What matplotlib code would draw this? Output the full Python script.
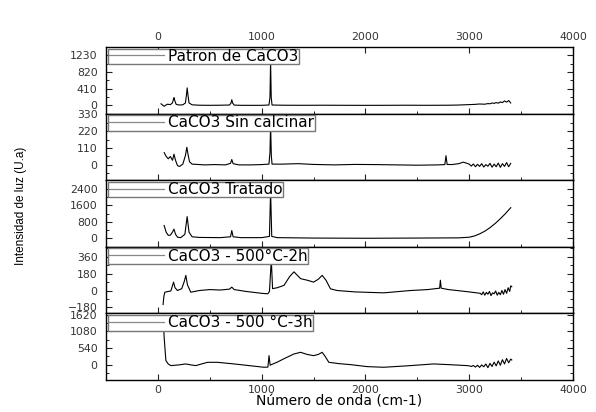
import matplotlib
matplotlib.use("Agg")
import matplotlib.pyplot as plt
from matplotlib.lines import Line2D
from matplotlib.ticker import MultipleLocator, AutoMinorLocator

plt.rcParams['font.family'] = ['DejaVu Sans']

labels = ["Patron de CaCO3", "CaCO3 Sin calcinar", "CaCO3 Tratado",
          "CaCO3 - 500°C-2h", "CaCO3 - 500 °C-3h"]

# Panel 1: Patron de CaCO3
x1 = [30, 60, 90, 120, 140, 150, 155, 160, 175, 200, 240, 265, 275, 282, 290, 300, 330,
      400, 500, 600, 690, 705, 712, 720, 735, 800, 900, 1000, 1070, 1080, 1086, 1092, 1100,
      1200, 1400, 1600, 1800, 2000, 2200, 2400, 2600, 2800, 2900, 3000, 3050, 3100, 3150,
      3180, 3200, 3220, 3240, 3260, 3280, 3300, 3320, 3340, 3360, 3380, 3400]
y1 = [40, -20, 30, 20, 60, 150, 190, 140, 30, 10, 15, 60, 250, 430, 250, 60, 15,
      5, 3, 5, 10, 60, 140, 60, 8, 3, 2, 3, 10, 200, 1080, 200, 10,
      5, 3, 5, 3, 2, 3, 5, 3, 5, 10, 20, 25, 35, 30,
      45, 40, 60, 50, 70, 55, 85, 70, 110, 80, 120, 60]

# Panel 2: CaCO3 Sin calcinar
x2 = [61, 80, 100, 120, 141, 155, 170, 189, 210, 240, 265, 279, 290, 305, 330, 380,
      450, 550, 650, 700, 712, 725, 780, 900, 1000, 1070, 1080, 1086, 1093, 1100, 1200,
      1350, 1500, 1700, 1900, 2100, 2300, 2500, 2700, 2765, 2776, 2787, 2830, 2900, 2942,
      2980, 3000, 3020, 3040, 3060, 3080, 3100, 3120, 3140, 3160, 3180, 3200, 3220, 3240,
      3260, 3280, 3300, 3320, 3340, 3360, 3380, 3400]
y2 = [80, 55, 40, 55, 30, 70, 30, -5, -10, 5, 60, 115, 70, 20, 5, 3,
      0, 2, 0, 10, 35, 8, 0, 0, 2, 5, 80, 265, 60, 5, 5,
      8, 3, 0, 3, 2, 0, -2, 0, 2, 60, 3, 2, 8, 18,
      10, 5, -8, 6, -12, 4, -10, 8, -14, 2, -9, 10, -15, 5, -12,
      12, -16, 8, -10, 15, -12, 10]

# Panel 3: CaCO3 Tratado
x3 = [60, 80, 100, 120, 140, 155, 170, 190, 220, 260, 282, 300, 330, 400, 600, 700, 712,
      725, 800, 1000, 1075, 1086, 1097, 1150, 1500, 2000, 2500, 2900, 3000, 3050, 3100,
      3150, 3200, 3250, 3300, 3350, 3400]
y3 = [625, 300, 150, 160, 300, 450, 200, 60, 40, 200, 1050, 300, 80, 50, 40, 80, 380,
      80, 40, 40, 100, 2300, 100, 40, 20, 10, 20, 30, 60, 120, 220,
      350, 520, 720, 950, 1200, 1480]

# Panel 4: CaCO3 - 500°C-2h
x4 = [50, 58, 67, 100, 125, 140, 151, 165, 189, 230, 255, 269, 285, 317, 400, 500, 600,
      690, 712, 735, 850, 1000, 1060, 1075, 1086, 1093, 1105, 1150, 1215, 1270, 1311, 1375,
      1440, 1500, 1545, 1583, 1620, 1663, 1728, 1900, 2176, 2433, 2600, 2715, 2722, 2730,
      2800, 2882, 3000, 3106, 3120, 3135, 3150, 3165, 3180, 3195, 3210, 3225, 3240, 3255,
      3270, 3285, 3300, 3315, 3330, 3345, 3360, 3375, 3390, 3400, 3410]
y4 = [-150, -60, -18, -10, -5, 50, 90, 30, 0, 20, 100, 162, 60, -18, 0, 10, 5,
      15, 36, 10, -10, -30, -35, -10, 200, 330, 20, 30, 55, 150, 200, 127,
      110, 90, 120, 162, 110, 18, 0, -15, -25, 0, 10, 25, 110, 25,
      10, 0, -15, -30, -45, -15, -50, -20, -40, -10, -55, -25, -35, -5,
      -50, -20, -45, 0, -40, 10, -30, 30, -10, 50, 40]

# Panel 5: CaCO3 - 500 °C-3h
x5 = [51, 60, 77, 100, 125, 200, 269, 320, 365, 478, 574, 650, 734, 900, 1022, 1060, 1071,
      1082, 1093, 1150, 1220, 1311, 1375, 1440, 1500, 1545, 1583, 1615, 1647, 1750, 1856,
      2016, 2176, 2400, 2657, 2800, 2978, 3000, 3020, 3040, 3060, 3080, 3100, 3120, 3140,
      3160, 3180, 3200, 3220, 3240, 3260, 3280, 3300, 3320, 3340, 3360, 3380, 3400, 3410]
y5 = [1600, 900, 130, 20, -32, -10, 22, -10, -32, 75, 75, 50, 22, -40, -86, -80, 292,
      -20, 0, 80, 200, 346, 400, 330, 292, 330, 400, 250, 75, 30, 0,
      -65, -86, -40, 22, 0, -32, -40, -60, -30, -80, -20, -90, -10, -70,
      20, -100, 40, -60, 80, -40, 120, -20, 160, 20, 200, 60, 180, 150]

xs = [x1, x2, x3, x4, x5]
ys = [y1, y2, y3, y4, y5]
ylims = [(-200, 1430), (-100, 335), (-400, 2800), (-245, 468), (-500, 1665)]
yticks = [[0, 410, 820, 1230], [0, 110, 220, 330], [0, 800, 1600, 2400],
          [-180, 0, 180, 360], [0, 540, 1080, 1620]]
xticks = [0, 1000, 2000, 3000, 4000]

fig = plt.figure(figsize=(5.96, 4.12), dpi=100)
gs = fig.add_gridspec(5, 1, left=106/596, right=573/596, top=1-47/412, bottom=1-380/412, hspace=0)
axes = [fig.add_subplot(gs[i]) for i in range(5)]

for i, ax in enumerate(axes):
    ax.plot(xs[i], ys[i], color='black', lw=0.8)
    ax.set_xlim(-500, 4000)
    ax.set_ylim(*ylims[i])
    ax.set_yticks(yticks[i])
    ax.yaxis.set_minor_locator(AutoMinorLocator(2))
    ax.set_xticks(xticks)
    ax.xaxis.set_minor_locator(MultipleLocator(500))
    ax.tick_params(axis='both', which='both', direction='in', right=True,
                   labelsize=7.8, labelcolor='#333333', color='#222222')
    ax.tick_params(which='major', length=4, width=0.8)
    ax.tick_params(which='minor', length=2.5, width=0.7)
    ax.tick_params(axis='y', pad=6)
    for sp in ax.spines.values():
        sp.set_linewidth(1.0)
    if i == 0:
        ax.tick_params(axis='x', top=True, labeltop=True, labelbottom=False)
    elif i < 4:
        ax.tick_params(axis='x', labelbottom=False)
    h = Line2D([], [], color='#888888', lw=0.9)
    ax.legend([h], [labels[i]], loc='upper left', bbox_to_anchor=(0.002, 1.0),
              borderaxespad=0.1, frameon=True, fancybox=False, edgecolor='#777777',
              framealpha=1, handlelength=3.6, handletextpad=0.3,
              borderpad=0.02, prop={'family': 'DejaVu Sans', 'size': 11})

axes[4].set_xlabel("Número de onda (cm-1)", fontsize=10, labelpad=0)
fig.text(0.035, 0.5, "Intensidad de luz (U.a)", rotation=90,
         fontsize=8.5, va='center', ha='center', family='Liberation Sans')

fig.savefig("out.png", dpi=100)
